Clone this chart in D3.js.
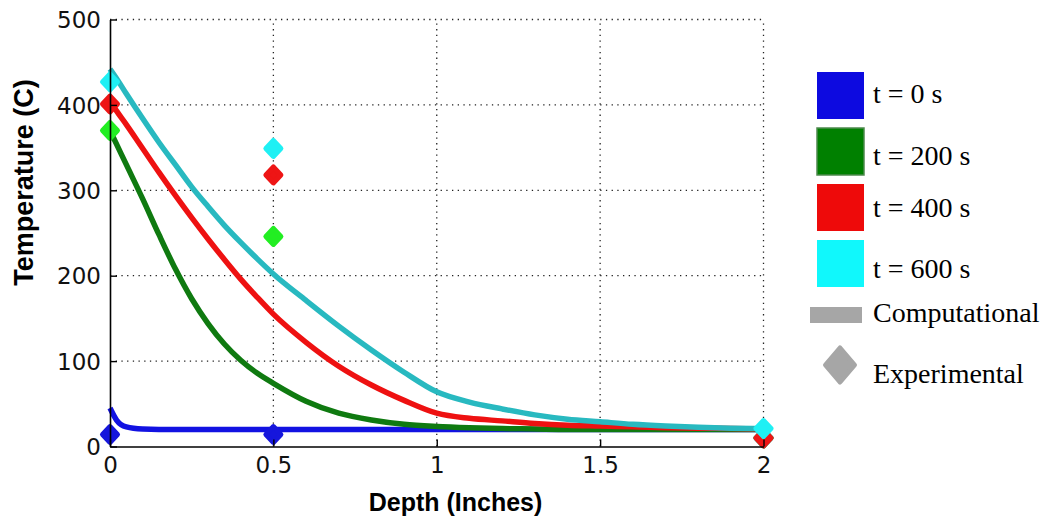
<!DOCTYPE html>
<html>
<head>
<meta charset="utf-8">
<script src="https://cdn.jsdelivr.net/npm/d3@7"></script>
<style>
  html, body { margin: 0; padding: 0; background: #ffffff; }
  svg { display: block; }
</style>
</head>
<body>
<svg id="chart" width="1050" height="516"></svg>
<script>
// ---------- data ----------
const depth = [0, 0.02, 0.05, 0.1, 0.15, 0.2, 0.25, 0.3, 0.35, 0.4, 0.45, 0.5, 0.6, 0.7, 0.8, 0.9, 1.0, 1.1, 1.2, 1.3, 1.4, 1.5, 1.6, 1.7, 1.8, 1.9, 2.0];
const comp0   = [45, 31, 23, 20.5, 20, 20, 20, 20, 20, 20, 20, 20, 20, 20, 20, 20, 20, 20, 20, 20, 20, 20, 20, 20, 20, 20, 20];
const comp200 = [370, 354, 330, 290, 248, 208, 173, 144, 120, 101, 86, 74, 53, 39, 31, 26, 23.5, 22, 21, 20.5, 20, 20, 20, 20, 20, 20, 20];
const comp400 = [405, 393, 377, 349, 321, 294, 268, 243, 219, 196, 175, 155, 122, 94, 72, 54, 39, 33, 30, 27, 25, 24, 23, 22, 21.5, 21, 20.5];
const comp600 = [442, 431, 413, 384, 356, 330, 304, 281, 259, 239, 220, 202, 171, 141, 113, 87, 64, 52, 44, 37, 32, 29, 26, 24, 22.5, 21.5, 21];

const depthExp = [0, 0.5, 2];
const exp0   = [14, 14, 10];
const exp200 = [370, 246, 10];
const exp400 = [401, 318, 10];
const exp600 = [427, 349, 21];

const xTicks = [0, 0.5, 1, 1.5, 2];
const xTickLabels = ["0", "0.5", "1", "1.5", "2"];
const yTicks = [0, 100, 200, 300, 400, 500];
const yTickLabels = ["0", "100", "200", "300", "400", "500"];

const legendLabels = ["t = 0 s", "t = 200 s", "t = 400 s", "t = 600 s"];
const xTitle = "Depth (Inches)";
const yTitle = "Temperature (C)";

// ---------- styles ----------
const lineColors   = ["#1212e2", "#0f7a10", "#ee1111", "#28b9c0"];
const markerColors = ["#1616dc", "#22ee22", "#ee1515", "#1ff0f4"];
const swatchColors = ["#0d0ae0", "#008000", "#ee0a0a", "#10f8fc"];

const svg = d3.select("#chart");
const x = d3.scaleLinear().domain([0, 2]).range([110, 763.5]);
const y = d3.scaleLinear().domain([0, 500]).range([446.5, 19.5]);

// grid
const grid = svg.append("g");
grid.selectAll("line.h").data(yTicks.filter(v => v > 0)).enter().append("line")
  .attr("x1", x(0)).attr("x2", x(2))
  .attr("y1", d => y(d)).attr("y2", d => y(d))
  .attr("stroke", "#222").attr("stroke-width", 1.3)
  .attr("stroke-dasharray", "1.3,4.4");
grid.selectAll("line.v").data(xTicks.filter(v => v > 0)).enter().append("line")
  .attr("y1", y(0)).attr("y2", y(500))
  .attr("x1", d => x(d)).attr("x2", d => x(d))
  .attr("stroke", "#222").attr("stroke-width", 1.3)
  .attr("stroke-dasharray", "1.3,4.4");

// computational lines
const series = [comp0, comp200, comp400, comp600];
const line = d3.line().x((d, i) => x(depth[i])).y(d => y(d)).curve(d3.curveMonotoneX);
series.forEach((s, k) => {
  svg.append("path").datum(s)
    .attr("d", line)
    .attr("fill", "none")
    .attr("stroke", lineColors[k])
    .attr("stroke-width", 5.5)
    .attr("stroke-linejoin", "round");
});

// experimental markers (diamonds)
const expSeries = [exp0, exp200, exp400, exp600];
const dia = (w, h) => `M0,${-h}L${w},0L0,${h}L${-w},0Z`;
expSeries.forEach((s, k) => {
  svg.append("g").selectAll("path").data(s).enter().append("path")
    .attr("transform", (d, i) => `translate(${x(depthExp[i])},${y(d)})`)
    .attr("d", dia(7.5, 8))
    .attr("fill", markerColors[k])
    .attr("stroke", markerColors[k])
    .attr("stroke-width", 5)
    .attr("stroke-linejoin", "round");
});

// axes
const tickFont = "'DejaVu Sans', sans-serif";
const yAxis = svg.append("g").attr("transform", `translate(${x(0)},0)`)
  .call(d3.axisLeft(y).tickValues(yTicks).tickFormat((d, i) => yTickLabels[i]).tickSize(-7).tickSizeOuter(0).tickPadding(9));
const xAxis = svg.append("g").attr("transform", `translate(0,${y(0)})`)
  .call(d3.axisBottom(x).tickValues(xTicks).tickFormat((d, i) => xTickLabels[i]).tickSize(-7).tickSizeOuter(0));
[yAxis, xAxis].forEach(g => {
  g.select(".domain").attr("stroke", "#000").attr("stroke-width", 1.6);
  g.selectAll(".tick line").attr("stroke", "#000").attr("stroke-width", 1.4);
  g.selectAll("text").attr("font-family", tickFont).attr("font-size", 23).attr("fill", "#111");
});
yAxis.selectAll("text").attr("dy", "0.36em");
xAxis.selectAll("text").attr("y", 26.5).attr("dy", 0);

// axis titles
svg.append("text")
  .attr("x", 455.5).attr("y", 511)
  .attr("text-anchor", "middle")
  .attr("font-family", "'Liberation Sans', Arial, sans-serif")
  .attr("font-weight", "bold").attr("font-size", 25)
  .attr("fill", "#000")
  .text(xTitle);
svg.append("text")
  .attr("transform", "translate(33,182.5) rotate(-90)")
  .attr("text-anchor", "middle")
  .attr("font-family", "'Liberation Sans', Arial, sans-serif")
  .attr("font-weight", "bold").attr("font-size", 27)
  .attr("fill", "#000")
  .text(yTitle);

// legend
const legend = svg.append("g");
const swatchTops = [72, 128, 184, 240];
const textBase = [103, 165, 217, 278];
const serif = "'Liberation Serif', 'Times New Roman', serif";
legendLabels.forEach((lab, k) => {
  legend.append("rect")
    .attr("x", 817).attr("y", swatchTops[k]).attr("width", 47).attr("height", 47)
    .attr("fill", swatchColors[k])
    .attr("stroke", k === 1 ? "#4d8a4d" : "none").attr("stroke-width", k === 1 ? 1.5 : 0);
  legend.append("text")
    .attr("x", 873).attr("y", textBase[k])
    .attr("font-family", serif).attr("font-size", 28).attr("fill", "#000")
    .text(lab);
});
legend.append("rect")
  .attr("x", 810).attr("y", 307).attr("width", 52).attr("height", 16)
  .attr("fill", "#a6a6a6");
legend.append("text")
  .attr("x", 873).attr("y", 322)
  .attr("font-family", serif).attr("font-size", 28).attr("fill", "#000")
  .text("Computational");
legend.append("path")
  .attr("transform", "translate(840,365)")
  .attr("d", dia(14.5, 17))
  .attr("fill", "#a6a6a6").attr("stroke", "#a6a6a6")
  .attr("stroke-width", 5).attr("stroke-linejoin", "round");
legend.append("text")
  .attr("x", 873).attr("y", 383)
  .attr("font-family", serif).attr("font-size", 28).attr("fill", "#000")
  .text("Experimental");
</script>
</body>
</html>
